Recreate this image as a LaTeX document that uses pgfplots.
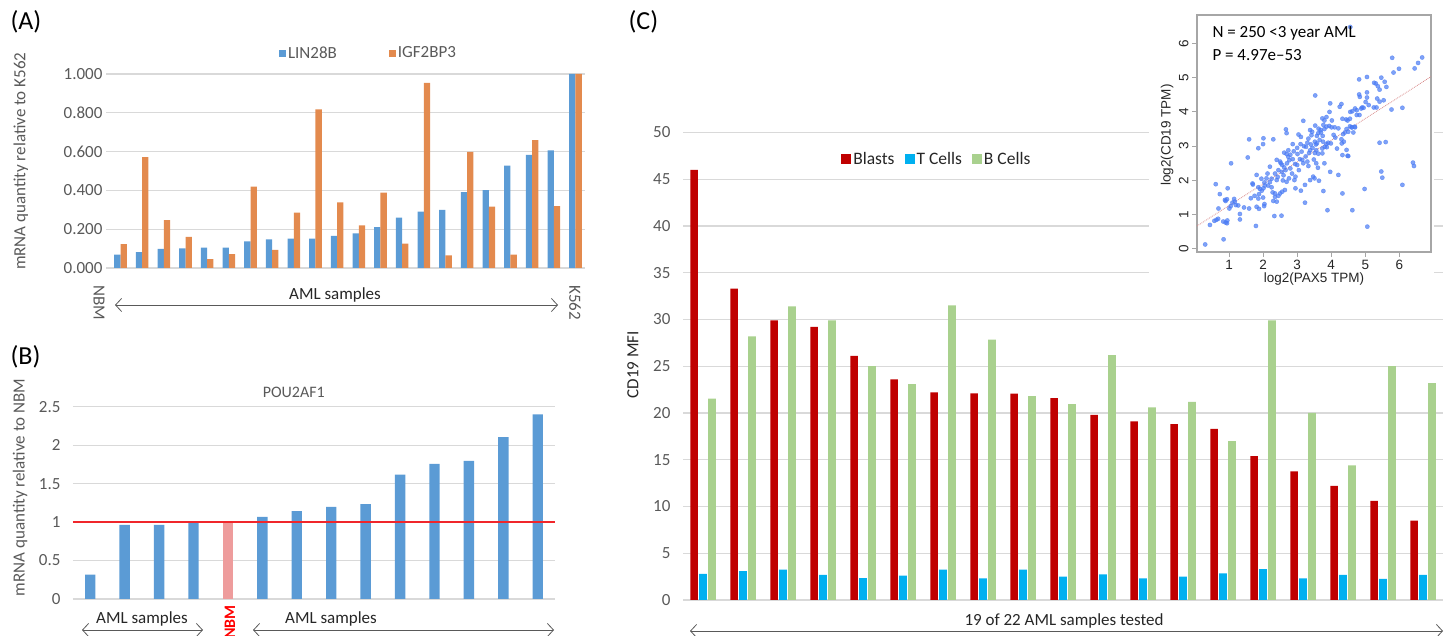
\documentclass[border=0pt]{standalone}
\usepackage{fontspec}
\setmainfont{Carlito}
\newfontfamily\arialf{Liberation Sans}
\usepackage{pgfplots}
\pgfplotsset{compat=1.18}
\usetikzlibrary{arrows.meta}
\definecolor{blueA}{HTML}{5B9BD5}
\definecolor{orangeA}{HTML}{E38A4E}
\definecolor{gridc}{HTML}{D9D9D9}
\definecolor{tickc}{HTML}{595959}
\definecolor{darkt}{HTML}{262626}
\definecolor{nbmpink}{HTML}{EE9C9C}
\definecolor{redline}{HTML}{F0262B}
\definecolor{blastc}{HTML}{C00000}
\definecolor{tcellc}{HTML}{00B0F0}
\definecolor{bcellc}{HTML}{A9D18E}
\definecolor{scat}{HTML}{4A7BF5}
\definecolor{trend}{HTML}{D98A8A}
\definecolor{framec}{HTML}{A6A6A6}
\newcommand{\fs}[1]{\fontsize{#1}{#1}\selectfont}
\pgfplotsset{
  xlsx/.style={scale only axis, axis line style={draw=none}, tick style={draw=none},
    ymajorgrids, major grid style={draw=gridc, line width=1.1pt},
    xtick=\empty, clip=false,
    yticklabel style={font=\fs{17}, text=tickc, /pgf/number format/assume math mode=true},
  },
}
\tikzset{dbl/.style={{Straight Barb[length=6pt,width=13pt]}-{Straight Barb[length=6pt,width=13pt]}, draw=tickc, line width=0.8pt}}
\begin{document}
\begin{tikzpicture}[x=1pt,y=1pt]
\useasboundingbox (0,0) rectangle (1445,636);
% ---------------- Panel A
\begin{axis}[xlsx, at={(106pt,368pt)}, anchor=south west, width=479pt, height=194pt,
  xmin=0.33, xmax=22.44, ymin=0, ymax=1, ytick={0,0.2,0.4,0.6,0.8,1},
  yticklabel style={/pgf/number format/.cd, fixed, fixed zerofill, precision=3},
  ylabel={mRNA quantity relative to K562},
  ylabel style={font=\fs{17}, text=tickc, at={(axis description cs:-0.178,0.55)}, anchor=center},
  legend columns=2,
  legend style={draw=none, fill=none, at={(0.548,1.108)}, anchor=center, font=\fs{17}, text=tickc,
    /tikz/every even column/.append style={column sep=50pt}},
]
\addplot[ybar, bar width=6.3pt, bar shift=-3.15pt, fill=blueA, draw=none,
  legend image code/.code={\fill[blueA] (0pt,-3.5pt) rectangle (7pt,3.5pt);}] coordinates {
(1,0.069)(2,0.082)(3,0.098)(4,0.101)(5,0.105)(6,0.105)(7,0.137)(8,0.148)(9,0.151)(10,0.151)
(11,0.166)(12,0.178)(13,0.211)(14,0.259)(15,0.290)(16,0.300)(17,0.391)(18,0.401)(19,0.528)
(20,0.583)(21,0.606)(22,1.000)};
\addlegendentry{LIN28B}
\addplot[ybar, bar width=6.3pt, bar shift=3.15pt, fill=orangeA, draw=none,
  legend image code/.code={\fill[orangeA] (0pt,-3.5pt) rectangle (7pt,3.5pt);}] coordinates {
(1,0.123)(2,0.571)(3,0.247)(4,0.160)(5,0.046)(6,0.072)(7,0.419)(8,0.094)(9,0.286)(10,0.818)
(11,0.338)(12,0.220)(13,0.389)(14,0.125)(15,0.954)(16,0.065)(17,0.599)(18,0.316)(19,0.069)
(20,0.659)(21,0.319)(22,1.000)};
\addlegendentry{IGF2BP3}
\end{axis}
\node[rotate=-90, anchor=west, font=\fs{17}, text=tickc] at (99,354) {NBM};
\node[rotate=-90, anchor=west, font=\fs{17}, text=tickc] at (575,354) {K562};
\node[font=\fs{17}, text=darkt] at (335,341) {AML samples};
\draw[dbl] (115,331) -- (558,331);
\node[anchor=west, font=\fs{26}] at (7,614) {(A)};
% ---------------- Panel B
\begin{axis}[xlsx, at={(73pt,37pt)}, anchor=south west, width=482pt, height=192.3pt,
  xmin=-0.5, xmax=13.5, ymin=0, ymax=2.5, ytick={0,0.5,1,1.5,2,2.5},
  yticklabel style={xshift=-9pt},
  ylabel={mRNA quantity relative to NBM},
  ylabel style={font=\fs{17}, text=tickc, at={(axis description cs:-0.11,0.58)}, anchor=center},
  title={POU2AF1}, title style={font=\fs{16}, text=tickc, at={(axis description cs:0.458,1.045)}, anchor=center},
]
\addplot[ybar, bar width=10.4pt, bar shift=0pt, fill=blueA, draw=none] coordinates {
(0,0.316)(1,0.964)(2,0.964)(3,1.008)(5,1.068)(6,1.142)(7,1.198)(8,1.233)(9,1.618)(10,1.756)
(11,1.795)(12,2.106)(13,2.40)};
\addplot[ybar, bar width=10.4pt, bar shift=0pt, fill=nbmpink, draw=none] coordinates {(4,1.0)};
\addplot[redline, line width=2pt] coordinates {(-0.5,1)(13.5,1)};
\end{axis}
\node[font=\fs{17}, text=darkt] at (142,17) {AML samples};
\draw[dbl] (82,6) -- (203,6);
\node[font=\fs{17}, text=darkt] at (331,17) {AML samples};
\draw[dbl] (253,6) -- (554,6);
\node[rotate=90, anchor=east, inner sep=0pt, font=\fs{16}\bfseries, text=red] at (230,31) {NBM};
\node[anchor=west, font=\fs{26}] at (7,279) {(B)};
% ---------------- Panel C
\begin{axis}[xlsx, at={(683pt,36pt)}, anchor=south west, width=760pt, height=467.5pt,
  xmin=-0.5, xmax=18.5, ymin=0, ymax=50, ytick={0,5,...,50},
  yticklabel style={xshift=-9pt},
  ylabel={CD19 MFI},
  ylabel style={font=\fs{17}, text=darkt, at={(axis description cs:-0.066,0.503)}, anchor=center},
  legend columns=3,
  legend style={draw=none, fill=none, at={(0.334,0.943)}, anchor=center, font=\fs{17.5}, text=darkt,
    /tikz/every even column/.append style={column sep=8pt}},
]
\addplot[ybar, bar width=7.7pt, bar shift=-8.9pt, fill=blastc, draw=none,
  legend image code/.code={\fill[blastc] (0pt,-5pt) rectangle (10pt,5pt);}] coordinates {
(0,46.0)(1,33.3)(2,29.9)(3,29.2)(4,26.1)(5,23.6)(6,22.2)(7,22.1)(8,22.07)(9,21.6)
(10,19.8)(11,19.1)(12,18.8)(13,18.3)(14,15.4)(15,13.75)(16,12.2)(17,10.6)(18,8.5)};
\addlegendentry{Blasts}
\addplot[ybar, bar width=7.7pt, bar shift=0pt, fill=tcellc, draw=none,
  legend image code/.code={\fill[tcellc] (0pt,-5pt) rectangle (10pt,5pt);}] coordinates {
(0,2.8)(1,3.1)(2,3.25)(3,2.7)(4,2.35)(5,2.6)(6,3.25)(7,2.3)(8,3.25)(9,2.5)
(10,2.75)(11,2.3)(12,2.5)(13,2.86)(14,3.3)(15,2.3)(16,2.7)(17,2.25)(18,2.7)};
\addlegendentry{T Cells}
\addplot[ybar, bar width=7.7pt, bar shift=8.9pt, fill=bcellc, draw=none,
  legend image code/.code={\fill[bcellc] (0pt,-5pt) rectangle (10pt,5pt);}] coordinates {
(0,21.55)(1,28.2)(2,31.4)(3,29.9)(4,25.0)(5,23.1)(6,31.5)(7,27.85)(8,21.8)(9,20.96)
(10,26.2)(11,20.6)(12,21.2)(13,17.0)(14,29.9)(15,20.0)(16,14.4)(17,25.0)(18,23.2)};
\addlegendentry{B Cells}
\end{axis}
\node[font=\fs{17}, text=darkt] at (1064,15) {19 of 22 AML samples tested};
\draw[dbl] (690,5) -- (1443,5);
\node[anchor=west, font=\fs{26}] at (625,614) {(C)};
% ---------------- Inset scatter
\fill[white] (1149,336) rectangle (1434,636);
\begin{axis}[at={(1197pt,384pt)}, anchor=south west, scale only axis, width=234pt, height=237pt,
  xmin=0.06, xmax=6.93, ymin=-0.09, ymax=6.83,
  axis line style={draw=framec, line width=1.3pt},
  xtick={1,2,3,4,5,6}, ytick={0,1,2,3,4,5,6}, tick align=outside, major tick length=5pt,
  tick style={draw=framec, line width=1pt}, tick pos=left,
  ticklabel style={font=\arialf\fs{13.5}, text=darkt, /pgf/number format/assume math mode=true},
  yticklabel style={rotate=90, anchor=south},
  xlabel={log2(PAX5 TPM)}, ylabel={log2(CD19 TPM)},
  xlabel style={font=\arialf\fs{13.5}, text=darkt, at={(axis description cs:0.5,-0.114)}, anchor=center},
  ylabel style={font=\arialf\fs{13.5}, text=darkt, at={(axis description cs:-0.128,0.494)}, anchor=center},
]
\addplot[only marks, mark=*, mark size=2.1pt, draw=scat, fill=scat, opacity=0.7, mark options={draw=scat, fill=scat}] table {
x y
0.30 0.13
0.44 0.70
0.57 0.82
0.61 1.89
0.63 0.85
0.68 0.88
0.69 1.18
0.73 1.60
0.83 0.80
0.84 0.28
0.88 1.43
0.90 0.77
0.90 1.40
0.94 0.75
0.94 1.45
0.95 0.83
0.96 1.77
1.01 1.18
1.05 1.25
1.06 2.50
1.10 1.35
1.15 1.46
1.17 1.38
1.20 1.28
1.27 1.27
1.32 1.02
1.32 0.86
1.44 1.21
1.55 2.67
1.59 3.20
1.59 1.18
1.64 1.48
1.69 1.91
1.70 1.88
1.75 1.55
1.79 0.67
1.81 2.16
1.81 1.23
1.86 2.94
1.86 1.80
1.86 1.47
1.88 1.60
1.88 1.17
1.91 1.75
1.95 2.05
1.96 1.70
2.00 3.06
2.00 1.50
2.01 3.23
2.01 1.77
2.03 1.25
2.04 1.94
2.04 1.31
2.05 1.85
2.10 2.06
2.13 2.20
2.15 1.85
2.20 2.40
2.20 1.95
2.25 2.05
2.25 1.80
2.28 1.65
2.30 3.20
2.30 1.40
2.33 0.96
2.35 2.20
2.35 1.62
2.35 1.52
2.40 2.01
2.40 1.38
2.40 2.60
2.43 2.10
2.45 1.55
2.45 2.30
2.50 2.55
2.50 1.62
2.52 2.50
2.54 0.97
2.55 2.25
2.56 2.45
2.56 1.67
2.58 2.00
2.60 2.15
2.62 2.38
2.62 2.81
2.64 1.72
2.66 2.30
2.67 3.49
2.69 3.38
2.69 1.96
2.69 2.77
2.70 2.50
2.74 2.69
2.74 2.88
2.76 2.06
2.77 2.59
2.80 2.35
2.80 2.75
2.85 2.20
2.87 2.62
2.87 3.06
2.90 2.85
2.92 2.01
2.94 2.48
2.95 2.11
2.95 1.77
3.00 2.95
3.00 2.45
3.01 2.77
3.04 3.34
3.05 2.30
3.08 2.62
3.10 3.06
3.11 3.27
3.11 1.70
3.13 2.84
3.15 2.60
3.18 2.50
3.18 3.74
3.20 3.00
3.23 1.35
3.23 1.87
3.25 2.70
3.26 2.98
3.30 2.55
3.30 3.10
3.33 2.42
3.33 3.22
3.35 2.80
3.38 2.01
3.38 2.88
3.38 3.47
3.40 3.05
3.42 3.32
3.44 3.42
3.45 2.95
3.47 2.11
3.53 4.48
3.51 2.06
3.64 1.99
3.80 2.50
3.61 2.37
3.56 2.50
3.49 2.61
3.74 2.79
4.33 2.74
4.48 2.72
4.17 2.93
4.37 3.13
4.30 3.20
3.97 2.25
4.21 2.16
3.77 1.69
3.89 1.13
4.33 1.62
3.52 3.13
3.58 3.08
3.66 3.18
3.76 3.13
3.86 3.06
3.91 3.10
3.81 2.98
3.74 2.93
3.56 2.88
3.52 2.80
3.62 2.78
3.58 3.30
3.70 3.40
3.80 3.50
3.62 3.38
3.75 3.30
3.55 3.05
4.07 3.33
4.12 3.25
3.99 3.08
3.87 2.97
4.31 3.08
4.35 3.35
4.45 2.89
3.74 3.81
3.86 3.85
3.80 3.75
4.21 3.52
4.10 3.55
3.86 3.57
3.94 3.59
4.01 3.55
4.02 3.75
3.53 3.60
3.63 3.51
3.69 3.47
3.77 3.62
4.44 3.78
4.33 3.80
4.48 3.75
4.55 3.58
4.60 3.55
4.50 3.42
4.30 4.23
4.25 4.15
3.97 4.25
3.95 4.00
4.45 3.50
4.40 3.40
4.56 6.48
5.79 5.58
6.67 5.59
6.55 5.43
6.45 5.27
5.99 5.26
5.83 5.15
4.82 4.95
5.05 5.02
5.47 5.00
5.57 4.88
5.26 4.85
5.31 4.83
4.82 4.51
4.84 4.44
5.05 4.57
5.62 4.73
5.42 4.65
5.37 4.75
5.05 4.42
5.01 4.29
5.35 4.39
5.42 4.30
5.54 4.34
5.77 4.07
6.09 4.12
5.25 4.13
5.33 4.13
4.91 4.13
4.95 4.12
4.88 4.10
4.75 4.05
4.62 4.02
4.56 4.00
4.61 3.55
4.70 3.55
4.65 3.40
5.42 3.10
5.60 3.12
6.40 2.52
6.43 2.42
5.47 2.26
5.50 2.08
6.09 1.87
4.98 1.75
4.62 1.13
5.06 0.65
4.75 3.91
4.83 3.91
4.69 3.57
5.10 4.20
4.70 4.10
4.50 2.71
4.55 3.80
};
\addplot[draw=trend, densely dotted, line width=0.8pt] coordinates {(0.06,0.67)(6.93,5.03)};
\end{axis}
\node[anchor=west, font=\fs{17}] at (1209,603) {N = 250 <3 year AML};
\node[anchor=west, font=\fs{17}] at (1209,581) {P = 4.97e--53};
\end{tikzpicture}
\end{document}
